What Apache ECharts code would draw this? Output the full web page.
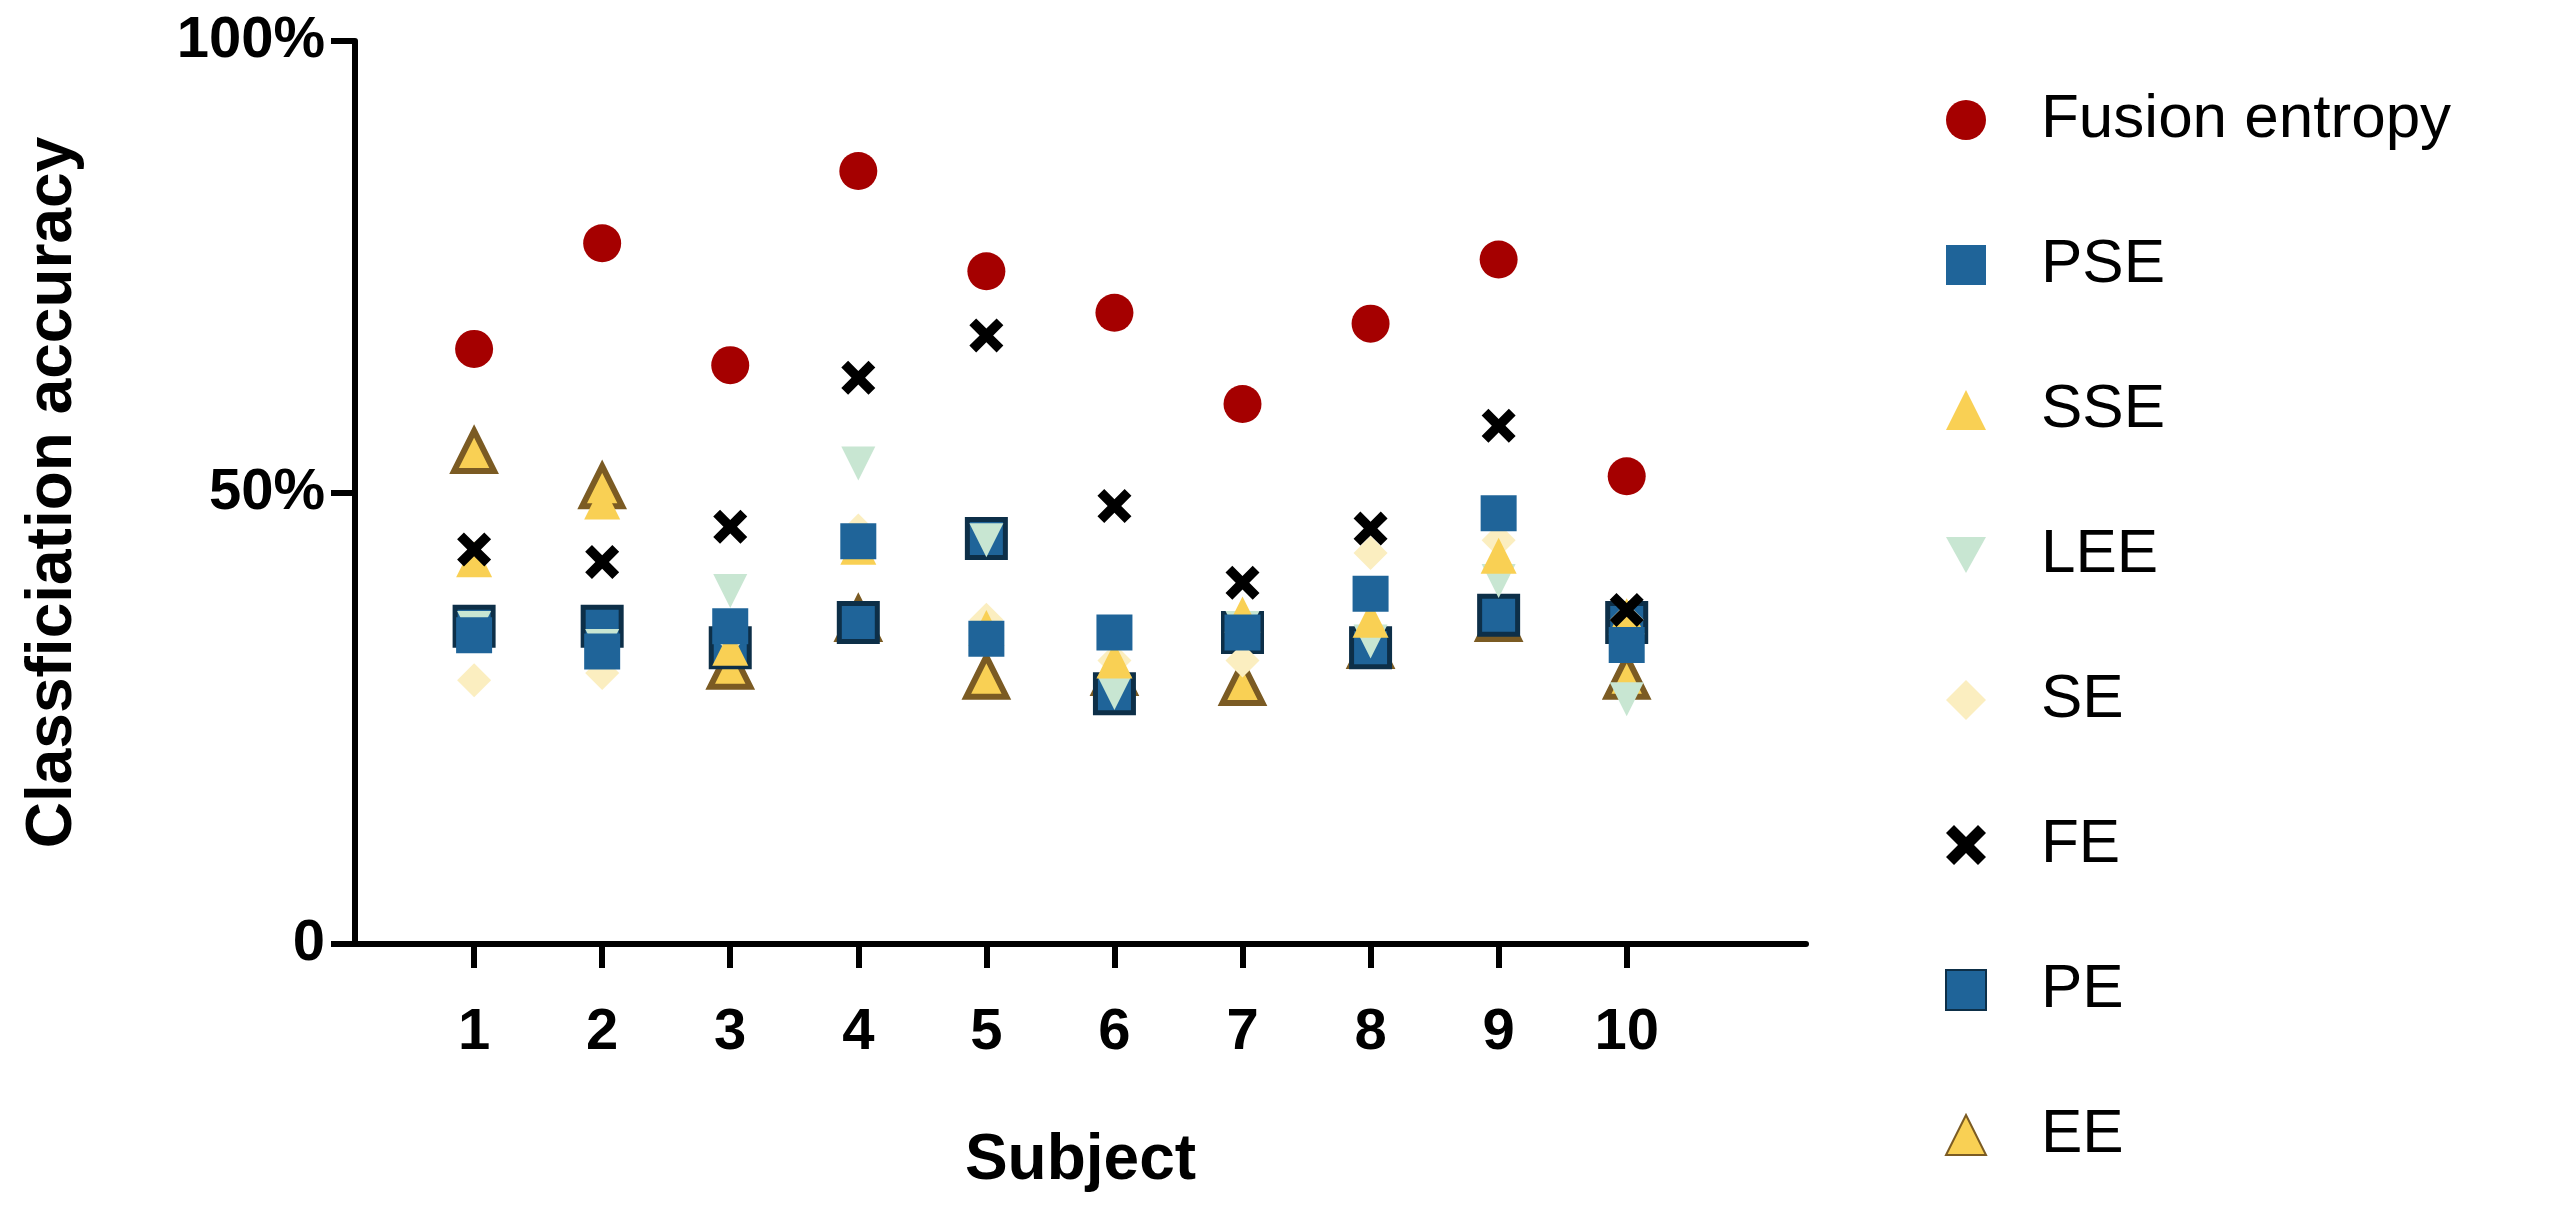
<!DOCTYPE html>
<html>
<head>
<meta charset="utf-8">
<script src="https://cdn.jsdelivr.net/npm/echarts@6/dist/echarts.min.js"></script>
<style>html,body{margin:0;background:#fff}#chartMain{width:2549px;height:1207px}</style>
</head>
<body>
<div id="chartMain"></div>
<script>
// subjects 1..10
var subjects = [1, 2, 3, 4, 5, 6, 7, 8, 9, 10];
var seriesNames = ['Fusion entropy', 'PSE', 'SSE', 'LEE', 'SE', 'FE', 'PE', 'EE'];
var fusionEntropy = [65.9, 77.6, 64.1, 85.6, 74.5, 69.9, 59.8, 68.7, 75.8, 51.8];
var pse = [34.2, 32.4, 35.2, 44.6, 33.8, 34.5, 34.5, 38.8, 47.7, 33.1];
var sse = [42.6, 49.0, 32.8, 44.0, 35.0, 31.4, 36.5, 35.9, 43.0, 36.3];
var lee = [35.0, 33.0, 39.1, 53.2, 44.7, 27.8, 35.0, 33.5, 40.2, 27.1];
var se = [29.2, 30.0, 34.0, 45.8, 35.9, 31.4, 31.4, 43.3, 44.7, 35.9];
var fe = [43.7, 42.3, 46.2, 62.7, 67.4, 48.5, 40.0, 46.0, 57.4, 37.0];
var pe = [35.2, 35.2, 32.8, 35.6, 44.9, 27.7, 34.5, 32.8, 36.4, 35.6];
var ee = [54.6, 50.7, 30.7, 36.0, 29.6, 30.0, 28.9, 33.0, 36.0, 29.6];
var yTicks = [0, 50, 100];

var crossPath = 'path://M2,0 L5,3 L8,0 L10,2 L7,5 L10,8 L8,10 L5,7 L2,10 L0,8 L3,5 L0,2 Z';

function pts(arr) {
    var out = [];
    for (var i = 0; i < subjects.length; i++) {
        out.push([subjects[i], arr[i]]);
    }
    return out;
}

function mk(name, arr, symbol, size, style, z) {
    style.opacity = 1;
    return {
        name: name,
        type: 'scatter',
        data: pts(arr),
        symbol: symbol,
        symbolSize: size,
        itemStyle: style,
        z: z
    };
}

var option = {
    backgroundColor: '#fff',
    animation: false,
    grid: { left: 355, top: 41, right: 743, bottom: 263 },
    legend: {
        data: seriesNames,
        orient: 'vertical',
        left: 1940,
        top: 84,
        itemWidth: 40,
        itemHeight: 40,
        itemGap: 83,
        textStyle: { fontFamily: 'Liberation Sans', fontSize: 62, color: '#000', lineHeight: 40, padding: [0, 0, 0, 50] }
    },
    xAxis: {
        type: 'value',
        min: 0.07,
        max: 11.4,
        name: 'Subject',
        nameLocation: 'middle',
        nameGap: 185,
        nameTextStyle: { fontFamily: 'Liberation Sans', fontSize: 64, fontWeight: 'bold', color: '#000' },
        splitLine: { show: false },
        axisLine: { lineStyle: { color: '#000', width: 6 } },
        axisTick: { customValues: subjects, length: 24, lineStyle: { color: '#000', width: 6 } },
        axisLabel: { customValues: subjects, margin: 60, fontFamily: 'Liberation Sans', fontSize: 58, fontWeight: 'bold', color: '#000' }
    },
    yAxis: {
        type: 'value',
        min: 0,
        max: 100,
        interval: 50,
        name: 'Classficiation accuracy',
        nameLocation: 'middle',
        nameGap: 270,
        nameTextStyle: { fontFamily: 'Liberation Sans', fontSize: 64, fontWeight: 'bold', color: '#000' },
        splitLine: { show: false },
        axisLine: { show: true, lineStyle: { color: '#000', width: 6 } },
        axisTick: { show: true, length: 24, lineStyle: { color: '#000', width: 6 } },
        axisLabel: {
            margin: 30,
            fontFamily: 'Liberation Sans', fontSize: 58, fontWeight: 'bold', color: '#000',
            formatter: function (v) { return v === 0 ? '0' : v + '%'; }
        }
    },
    series: [
        mk('Fusion entropy', fusionEntropy, 'circle', 38, { color: '#a50000' }, 9),
        mk('PSE', pse, 'rect', 36, { color: '#1f6499' }, 7),
        mk('SSE', sse, 'triangle', 36, { color: '#f9d054' }, 6),
        mk('LEE', lee, 'path://M0,0 L10,0 L5,9 Z', 34, { color: '#c8e6d2' }, 5),
        mk('SE', se, 'diamond', 34, { color: '#fbeec0' }, 4),
        mk('FE', fe, crossPath, 34, { color: '#000' }, 8),
        mk('PE', pe, 'rect', 38, { color: '#1f6499', borderColor: '#0d2f48', borderWidth: 5 }, 3),
        mk('EE', ee, 'triangle', 40, { color: '#f9d054', borderColor: '#7b5b23', borderWidth: 6 }, 2)
    ]
};

var mychart = echarts.init(document.getElementById('chartMain'));
mychart.setOption(option);
</script>
</body>
</html>
